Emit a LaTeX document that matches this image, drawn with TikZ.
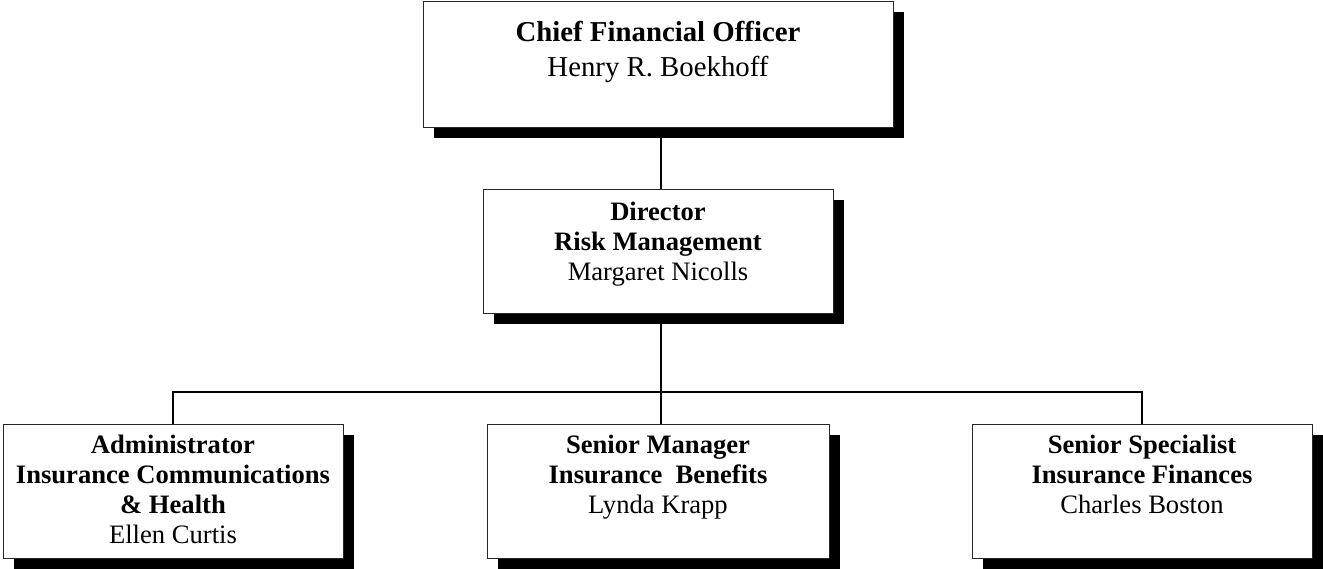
\documentclass[tikz,border=0pt]{standalone}
\usepackage{fontspec}
\setmainfont{Liberation Serif}
\usetikzlibrary{shadows}
\newcommand{\orgtext}[4]{\parbox[c][#2][t]{#1}{\centering\vspace*{#3}\rule{0pt}{10.5pt}#4\par}}
\tikzset{
  orgbox/.style={draw=black!85, line width=0.5pt, fill=white, inner sep=0pt,
    general shadow={fill=black, shadow xshift=5.25pt, shadow yshift=-5.25pt},
    font=\fontsize{13.3}{15.1}\selectfont},
  conn/.style={draw=black, line width=0.9pt}
}
\begin{document}
\begin{tikzpicture}[x=0.5pt, y=-0.5pt]
\useasboundingbox (0,0) rectangle (1323,568);
\node[orgbox, font=\fontsize{14.4}{17.6}\selectfont] (cfo) at (658,64)
  {\orgtext{235pt}{63pt}{9.5pt}{\textbf{Chief Financial Officer}\\Henry R. Boekhoff}};
\node[orgbox] (dir) at (658,251)
  {\orgtext{175pt}{62pt}{5pt}{\textbf{Director}\\\textbf{Risk Management}\\Margaret Nicolls}};
\node[orgbox] (adm) at (173,491)
  {\orgtext{170pt}{67pt}{4pt}{\textbf{Administrator}\\\textbf{Insurance Communications}\\\textbf{\& Health}\\Ellen Curtis}};
\node[orgbox] (mgr) at (658,491)
  {\orgtext{171pt}{67pt}{4pt}{\textbf{Senior Manager}\\\textbf{Insurance~~Benefits}\\Lynda Krapp}};
\node[orgbox] (spec) at (1142,491)
  {\orgtext{170pt}{67pt}{4pt}{\textbf{Senior Specialist}\\\textbf{Insurance Finances}\\Charles Boston}};
\coordinate (bus) at (661,392);
\draw[conn] (cfo.south -| bus) -- (dir.north -| bus);
\draw[conn] (dir.south -| bus) -- (bus);
\draw[conn] (adm.north) -- (adm.north |- bus) -| (spec.north);
\draw[conn] (mgr.north -| bus) -- (bus);
\end{tikzpicture}
\end{document}
